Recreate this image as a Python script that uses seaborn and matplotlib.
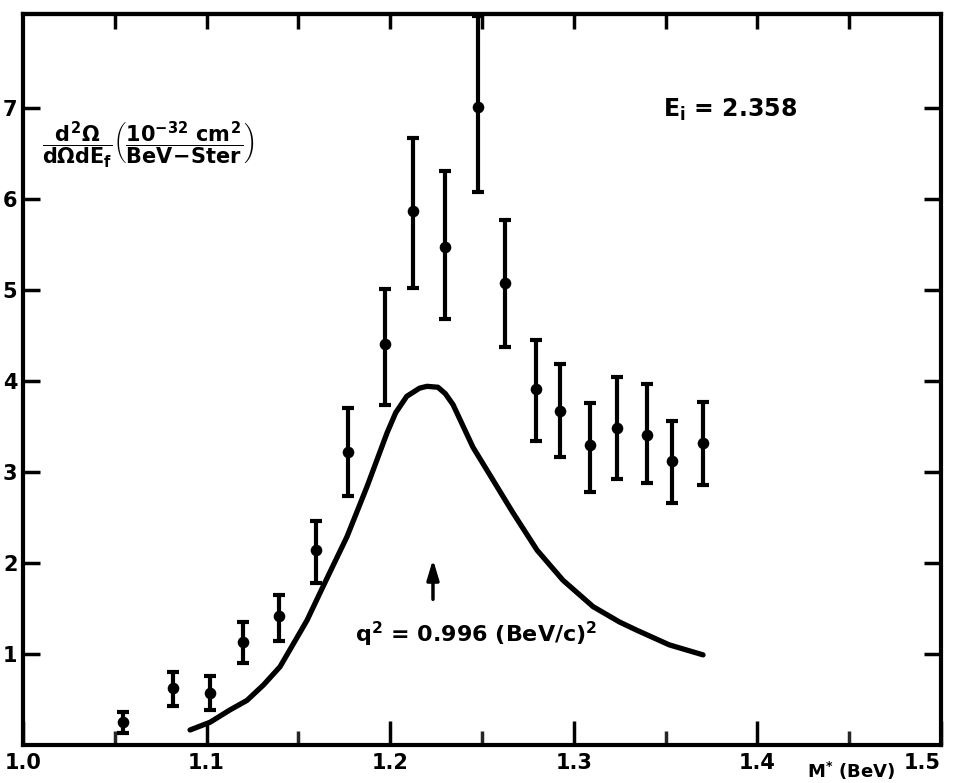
import matplotlib
matplotlib.use("Agg")
import matplotlib.pyplot as plt
import seaborn as sns
import numpy as np
import pandas as pd

# ---------------- data ----------------
mass = [1.0545, 1.0817, 1.1019, 1.1198, 1.1394, 1.1596, 1.1770, 1.1972, 1.2124,
        1.2298, 1.2478, 1.2625, 1.2794, 1.2925, 1.3088, 1.3235, 1.3398, 1.3535, 1.3704]
xsec = [0.25, 0.63, 0.57, 1.13, 1.42, 2.14, 3.22, 4.40, 5.87,
        5.47, 7.01, 5.08, 3.91, 3.67, 3.29, 3.48, 3.40, 3.12, 3.32]
xsec_hi = [0.36, 0.80, 0.76, 1.35, 1.65, 2.46, 3.70, 5.01, 6.67,
           6.30, 8.01, 5.77, 4.45, 4.18, 3.76, 4.04, 3.97, 3.56, 3.77]
xsec_lo = [0.13, 0.43, 0.38, 0.90, 1.14, 1.78, 2.73, 3.74, 5.02,
           4.68, 6.07, 4.37, 3.34, 3.16, 2.78, 2.92, 2.88, 2.66, 2.86]

curve_m = [1.0910, 1.1019, 1.1127, 1.1220, 1.1310, 1.1400, 1.1547, 1.1634, 1.1765,
           1.1874, 1.1983, 1.2030, 1.2090, 1.2160, 1.2200, 1.2260, 1.2300, 1.2342,
           1.2451, 1.2560, 1.2669, 1.2800, 1.2941, 1.3105, 1.3250, 1.3344, 1.3520,
           1.3704]
curve_v = [0.165, 0.25, 0.385, 0.49, 0.66, 0.86, 1.37, 1.74, 2.29,
           2.84, 3.43, 3.65, 3.83, 3.92, 3.94, 3.93, 3.86, 3.74,
           3.27, 2.91, 2.55, 2.14, 1.81, 1.52, 1.35, 1.26, 1.10,
           0.99]

xticks = [1.0, 1.1, 1.2, 1.3, 1.4, 1.5]
xtick_labels = ["1.0", "1.1", "1.2", "1.3", "1.4", "1.5"]
yticks = [1, 2, 3, 4, 5, 6, 7]
ytick_labels = ["1", "2", "3", "4", "5", "6", "7"]

# ---------------- style ----------------
sns.set_theme(style="white")
plt.rcParams["font.family"] = ["DejaVu Sans"]
plt.rcParams["font.weight"] = "bold"
plt.rcParams["mathtext.fontset"] = "custom"
plt.rcParams["mathtext.rm"] = "DejaVu Sans:bold"
plt.rcParams["mathtext.it"] = "DejaVu Sans:bold"
plt.rcParams["mathtext.bf"] = "DejaVu Sans:bold"
plt.rcParams["mathtext.sf"] = "DejaVu Sans:bold"

fig = plt.figure(figsize=(9.64, 7.83), dpi=100)
fig.patch.set_facecolor("white")
ax = fig.add_axes([23 / 964, 38 / 783, (941 - 23) / 964, (769 - 38) / 783])
ax.set_facecolor("white")

df_pts = pd.DataFrame({"m": mass, "v": xsec})
df_curve = pd.DataFrame({"m": curve_m, "v": curve_v})

sns.lineplot(data=df_curve, x="m", y="v", ax=ax, color="black", lw=3.8,
             sort=False, estimator=None, solid_joinstyle="round",
             solid_capstyle="round")
yerr = [np.array(xsec) - np.array(xsec_lo), np.array(xsec_hi) - np.array(xsec)]
ax.errorbar(mass, xsec, yerr=yerr, fmt="none", ecolor="black", elinewidth=3.0,
            capsize=4.5, capthick=3.0)
sns.scatterplot(data=df_pts, x="m", y="v", ax=ax, color="black", s=70,
                marker="o", edgecolor="black", linewidth=0, zorder=5)

ax.set_xlim(1.0, 1.5)
ax.set_ylim(0, 8.03)
ax.set_xlabel("")
ax.set_ylabel("")

for s in ax.spines.values():
    s.set_visible(True)
    s.set_color("black")
    s.set_linewidth(3.0)

ax.set_xticks(xticks)
ax.set_xticklabels(xtick_labels, fontsize=15, fontweight="bold")
ax.set_xticks([1.05, 1.15, 1.25, 1.35, 1.45], minor=True)
ax.set_yticks(yticks)
ax.set_yticklabels(ytick_labels, fontsize=15, fontweight="bold")
ax.tick_params(axis="x", which="major", direction="in", length=17, width=2.5,
               bottom=True, top=False, pad=6, colors="black")
ax.tick_params(axis="x", which="minor", direction="in", length=10, width=2.5,
               bottom=True, top=False)
ax.tick_params(axis="y", which="major", direction="in", length=12, width=2.5,
               left=True, right=True, pad=4, colors="black")
for lbl in ax.get_xticklabels():
    if lbl.get_text() == "1.5":
        lbl.set_horizontalalignment("right")

top = ax.secondary_xaxis("top")
top.set_xticks([1.05, 1.1, 1.15, 1.2, 1.25, 1.3, 1.35, 1.4, 1.45])
top.tick_params(direction="in", length=11, width=2.5, labeltop=False, colors="black")
top.spines["top"].set_linewidth(3.0)

# ---------------- annotations ----------------
ax.text(1.0103, 6.59,
        r"$\dfrac{d^2\Omega}{d\Omega dE_f}\left(\dfrac{10^{-32}\ cm^2}{BeV\!-\!Ster}\right)$",
        fontsize=15, va="center", ha="left", color="black")
ax.text(1.3486, 6.98, r"E$_{i}$ = 2.358", fontsize=17, fontweight="bold",
        va="center", ha="left", color="black")
ax.annotate("", xy=(1.2233, 2.07), xytext=(1.2233, 1.57),
            arrowprops=dict(arrowstyle="-|>,head_length=1.0,head_width=0.3",
                            color="black", lw=2.5))
ax.text(1.1808, 1.21, r"q$^{2}$ = 0.996 (BeV/c)$^{2}$", fontsize=16,
        fontweight="bold", va="center", ha="left", color="black")
ax.text(1.451, -0.036, r"M$^{*}$ (BeV)", transform=ax.get_xaxis_transform(),
        fontsize=13, fontweight="bold", va="center", ha="center", color="black")

fig.savefig("out.png", dpi=100, facecolor="white")
